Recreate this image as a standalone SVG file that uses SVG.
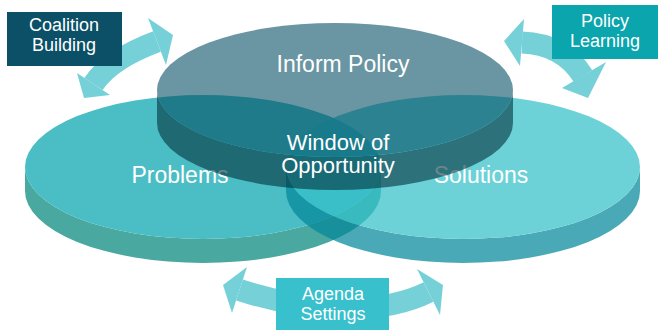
<svg xmlns="http://www.w3.org/2000/svg" width="659" height="330" viewBox="0 0 659 330">
<style>
.lbl{font-family:"Liberation Sans",Arial,sans-serif;fill:#ffffff;text-anchor:middle}
.disc{font-size:23px}
.box{font-size:18px}
.win{font-size:22px}
.arrow{fill:#76d0d8}
.body{fill:none;stroke:#76d0d8;stroke-width:22}
</style>
<rect width="659" height="330" fill="#ffffff"/>
<g id="problems">
<path d="M25,167 L25,191 A178,72 0 0 0 381,191 L381,167 A178,72 0 0 1 25,167 Z" fill="#49a8a0"/>
<ellipse cx="203" cy="167" rx="178" ry="72" fill="#4bbdc4"/>
<text class="lbl disc" x="180" y="183">Problems</text>
</g>
<g id="solutions">
<g opacity="0.72">
<path d="M286,167 L286,191 A177,72 0 0 0 640,191 L640,167 A177,72 0 0 1 286,167 Z" fill="#04889a"/>
<ellipse cx="463" cy="167" rx="177" ry="72" fill="#34c1ca"/>
</g>
<text class="lbl disc" x="481" y="183">Solutions</text>
</g>
<g id="inform-policy">
<g opacity="0.58">
<path d="M157,90 L157,123 A178,67 0 0 0 513,123 L513,90 A178,67 0 0 1 157,90 Z" fill="#002e39"/>
<ellipse cx="335" cy="90" rx="178" ry="67" fill="#004a60"/>
</g>
<text class="lbl disc" x="343" y="72">Inform Policy</text>
</g>
<g id="window-of-opportunity">
<text class="lbl win" x="338" y="150">Window of</text>
<text class="lbl win" x="338" y="173">Opportunity</text>
</g>
<g id="connectors">
<path class="body" d="M93.5,84 Q110,59 157,41.5"/>
<polygon class="arrow" points="148,18 173,35 166,65"/>
<polygon class="arrow" points="77,73 84,98 110,95"/>
<path class="body" d="M522,42.5 Q563,44 583,76"/>
<polygon class="arrow" points="524,19 504,41 520,66"/>
<polygon class="arrow" points="562,88 588,98 606,62"/>
<path class="body" d="M239.5,290 C296.5,308.6 374.9,318.8 428.5,292"/>
<polygon class="arrow" points="247,267 223,285 232,313"/>
<polygon class="arrow" points="417,269 443,285 440,315"/>
</g>
<g id="coalition-building">
<rect x="7" y="12" width="115" height="54" fill="#0b5066"/>
<text class="lbl box" x="64" y="30.5">Coalition</text>
<text class="lbl box" x="64" y="51">Building</text>
</g>
<g id="policy-learning">
<rect x="552" y="5" width="106" height="54" fill="#0aa5ad"/>
<text class="lbl box" x="605" y="26.5">Policy</text>
<text class="lbl box" x="605" y="47">Learning</text>
</g>
<g id="agenda-settings">
<rect x="276" y="278" width="113" height="52" fill="#38c0cc"/>
<text class="lbl box" x="333" y="299.5">Agenda</text>
<text class="lbl box" x="333" y="320">Settings</text>
</g>
</svg>
